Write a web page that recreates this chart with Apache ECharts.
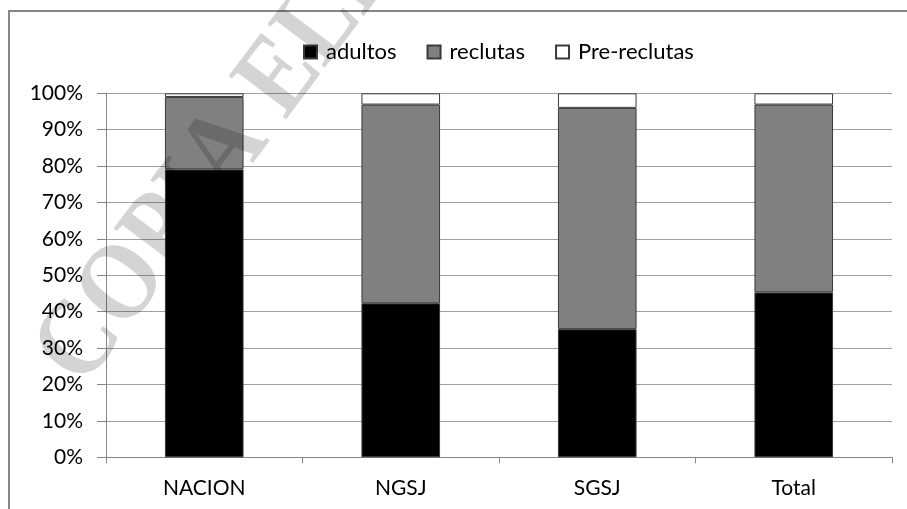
<!DOCTYPE html>
<html>
<head>
<meta charset="utf-8">
<script src="https://cdn.jsdelivr.net/npm/echarts@6/dist/echarts.min.js"></script>
<style>
html,body{margin:0;padding:0;background:#fff;}
#c{width:907px;height:509px;}
</style>
</head>
<body>
<div id="c"></div>
<script>
const categories = ['NACION', 'NGSJ', 'SGSJ', 'Total'];
const adultos = [79.1, 42.3, 35.2, 45.3];
const reclutas = [19.9, 54.6, 60.8, 51.6];
const preReclutas = [1.0, 3.1, 4.0, 3.1];
const seriesNames = ['adultos', 'reclutas', 'Pre-reclutas'];
const yTicks = { min: 0, max: 100, interval: 10 };
const watermark = 'COPIA ELECTRONICA';

const FONT = 'Lato';
const chart = echarts.init(document.getElementById('c'), null, { renderer: 'canvas' });

function barSeries(name, data, color) {
  return {
    name: name,
    type: 'bar',
    stack: 'total',
    data: data,
    barWidth: '40%',
    itemStyle: { color: color, borderColor: '#3a3a3a', borderWidth: 1 },
    emphasis: { disabled: true },
    animation: false
  };
}

chart.setOption({
  animation: false,
  backgroundColor: '#ffffff',
  grid: { left: 106, right: 15, top: 93.3, bottom: 51.7, containLabel: false },
  legend: {
    left: 303,
    top: 41,
    padding: 0,
    icon: 'rect',
    itemWidth: 13,
    itemHeight: 13,
    itemGap: 30,
    formatter: '{g|{name}}',
    textStyle: {
      fontFamily: FONT, fontSize: 22, color: '#000',
      rich: { g: { fontFamily: FONT, fontSize: 22, color: '#000', padding: [0, 0, 0, 4] } }
    },
    data: seriesNames
  },
  xAxis: {
    type: 'category',
    data: categories,
    axisLine: { lineStyle: { color: '#868686', width: 1 } },
    axisTick: { show: true, length: 6, lineStyle: { color: '#868686' } },
    axisLabel: { fontFamily: FONT, fontSize: 21, color: '#000', margin: 20 }
  },
  yAxis: {
    type: 'value',
    min: yTicks.min,
    max: yTicks.max,
    interval: yTicks.interval,
    axisLine: { show: true, lineStyle: { color: '#868686', width: 1 } },
    axisTick: { show: true, length: 9, lineStyle: { color: '#868686' } },
    axisLabel: { fontFamily: FONT, fontSize: 21, color: '#000', margin: 23, formatter: '{value}%' },
    splitLine: { lineStyle: { color: '#a0a0a0', width: 1 } }
  },
  series: [
    barSeries(seriesNames[0], adultos, '#000000'),
    barSeries(seriesNames[1], reclutas, '#808080'),
    barSeries(seriesNames[2], preReclutas, '#ffffff')
  ],
  graphic: [
    {
      type: 'rect',
      silent: true,
      z: 100,
      shape: { x: 9, y: 11, width: 1000, height: 600 },
      style: { fill: 'none', stroke: '#878787', lineWidth: 2 }
    },
    {
      type: 'text',
      silent: true,
      z: 101,
      x: 60,
      y: 372,
      scaleX: 0.88,
      rotation: 53 * Math.PI / 180,
      style: {
        text: watermark,
        fontFamily: 'Liberation Serif',
        fontWeight: 'bold',
        fontSize: 110,
        fill: 'rgba(0,0,0,0.17)',
        textAlign: 'left',
        textVerticalAlign: 'middle'
      }
    }
  ]
});
</script>
</body>
</html>
